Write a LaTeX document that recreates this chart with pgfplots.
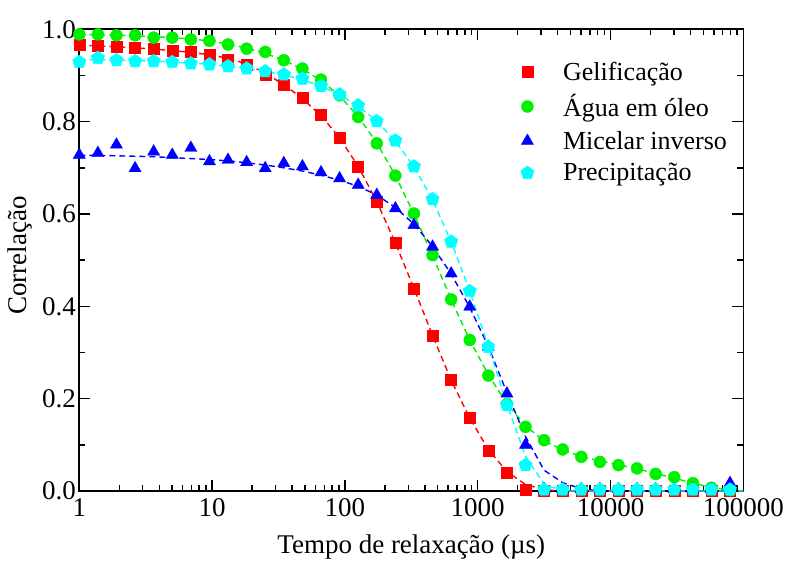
\documentclass[border=0pt]{standalone}
\usepackage{fontspec}
\setmainfont{Liberation Serif}
\usepackage{pgfplots}
\usepackage{pgfplotstable}
\pgfplotsset{compat=1.18}

\definecolor{cRed}{RGB}{255,0,0}
\definecolor{cGreen}{RGB}{0,240,0}
\definecolor{cBlue}{RGB}{0,0,255}
\definecolor{cCyan}{RGB}{0,255,255}

% measured points: x, gelificacao, agua em oleo, micelar inverso, precipitacao
\pgfplotstableread{
x      gel    agua   mic    prec
1      0.967  0.989  0.728  0.929
1.380  0.964  0.989  0.732  0.938
1.905  0.962  0.987  0.750  0.933
2.630  0.960  0.987  0.699  0.931
3.631  0.957  0.982  0.735  0.931
5.012  0.953  0.982  0.728  0.929
6.918  0.951  0.978  0.743  0.926
9.550  0.946  0.975  0.714  0.924
13.18  0.935  0.967  0.717  0.920
18.20  0.924  0.958  0.712  0.915
25.12  0.902  0.951  0.699  0.909
34.67  0.880  0.933  0.710  0.902
47.86  0.851  0.915  0.703  0.893
66.07  0.815  0.891  0.690  0.877
91.20  0.765  0.857  0.677  0.859
125.9  0.703  0.810  0.663  0.835
173.8  0.627  0.753  0.641  0.801
239.9  0.537  0.683  0.612  0.759
331.1  0.439  0.601  0.576  0.703
457.1  0.337  0.511  0.529  0.632
631.0  0.240  0.415  0.471  0.540
871.0  0.158  0.327  0.399  0.433
1202   0.088  0.250  0.312  0.312
1660   0.040  0.188  0.211  0.186
2291   0.003  0.139  0.100  0.056
3162   0.000  0.110  0.004  0.003
4365   0.000  0.090  0.004  0.003
6026   0.000  0.074  0.004  0.003
8318   0.000  0.063  0.004  0.003
11482  0.000  0.056  0.004  0.003
15849  0.000  0.049  0.004  0.003
21878  0.000  0.037  0.004  0.003
30200  0.000  0.030  0.004  0.003
41687  0.000  0.017  0.004  0.003
57544  0.000  0.007  0.004  0.003
79433  0.000  0.002  0.017  0.003
109648 0.000  0.000  0.000  0.003
}\pontos

% dashed fit curves
\pgfplotstableread{
x      gel    agua   mic    prec
1      0.965  0.989  0.727  0.934
1.380  0.964  0.988  0.727  0.934
1.905  0.962  0.987  0.726  0.933
2.630  0.960  0.986  0.725  0.932
3.631  0.957  0.984  0.724  0.931
5.012  0.954  0.982  0.722  0.929
6.918  0.950  0.979  0.720  0.927
9.550  0.945  0.975  0.718  0.924
13.18  0.937  0.968  0.715  0.920
18.20  0.925  0.959  0.711  0.915
25.12  0.905  0.948  0.706  0.909
34.67  0.880  0.933  0.700  0.901
47.86  0.850  0.914  0.693  0.891
66.07  0.813  0.889  0.684  0.877
91.20  0.765  0.856  0.673  0.858
125.9  0.703  0.811  0.660  0.834
173.8  0.627  0.754  0.641  0.801
239.9  0.537  0.683  0.614  0.758
331.1  0.439  0.600  0.578  0.702
457.1  0.337  0.510  0.530  0.631
631.0  0.240  0.415  0.470  0.540
871.0  0.158  0.327  0.398  0.433
1202   0.090  0.252  0.313  0.313
1660   0.042  0.189  0.213  0.188
2291   0.014  0.141  0.118  0.075
3162   0.003  0.109  0.045  0.015
4365   0.000  0.089  0.018  0.000
6026   0.000  0.075  0.005  0.000
8318   0.000  0.065  0.000  0.000
11482  0.000  0.057  0.000  0.000
15849  0.000  0.048  0.000  0.000
21878  0.000  0.038  0.000  0.000
30200  0.000  0.028  0.000  0.000
41687  0.000  0.017  0.000  0.000
57544  0.000  0.008  0.000  0.000
79433  0.000  0.002  0.000  0.000
100000 0.000  0.000  0.000  0.000
}\ajuste

\begin{document}
\begin{tikzpicture}
\useasboundingbox (-79.3pt,-77pt) rectangle (706.7pt,491pt);
\begin{axis}[
    at={(0,0)}, anchor=south west,
    scale only axis,
    width=664pt, height=461.7pt,
    xmode=log,
    xmin=1, xmax=100000,
    ymin=0, ymax=1,
    log ticks with fixed point,
    /pgf/number format/1000 sep={},
    /pgf/number format/assume math mode=true,
    ytick={0,0.2,0.4,0.6,0.8,1.0},
    minor ytick={0.1,0.3,0.5,0.7,0.9},
    yticklabel style={/pgf/number format/fixed, /pgf/number format/fixed zerofill, /pgf/number format/precision=1},
    tick label style={font=\fontsize{27}{32}\selectfont},
    xticklabel style={yshift=-4pt},
    label style={font=\fontsize{27}{32}\selectfont},
    tick align=inside,
    major tick length=11pt,
    minor tick length=6pt,
    every tick/.style={black, line width=1.5pt},
    axis line style={line width=1.6pt},
    xlabel={Tempo de relaxação (µs)},
    ylabel={Correlação},
    xlabel style={at={(axis description cs:0.5,0)}, anchor=center, yshift=-56pt},
    ylabel style={at={(axis description cs:-0.089,0.51)}, anchor=center},
    legend style={draw=none, fill=none, at={(axis description cs:0.660,0.938)}, anchor=north west,
        font=\fontsize{26}{31}\selectfont, row sep=8.7pt, column sep=27pt},
    legend cell align=left,
]
\addplot[cRed, dash pattern=on 6pt off 4pt, line width=1.4pt, forget plot] table[x=x, y=gel] {\ajuste};
\addplot[cGreen, dash pattern=on 6pt off 4pt, line width=1.4pt, forget plot] table[x=x, y=agua] {\ajuste};
\addplot[cBlue, dash pattern=on 6pt off 4pt, line width=1.4pt, forget plot] table[x=x, y=mic] {\ajuste};
\addplot[cCyan, dash pattern=on 6pt off 4pt, line width=1.4pt, forget plot] table[x=x, y=prec] {\ajuste};

\addplot[only marks, mark=square*, mark size=5.5pt, color=cRed] table[x=x, y=gel] {\pontos};
\addplot[only marks, mark=*, mark size=6pt, color=cGreen] table[x=x, y=agua] {\pontos};
\addplot[only marks, mark=triangle*, mark size=7pt, color=cBlue] table[x=x, y=mic] {\pontos};
\addplot[only marks, mark=pentagon*, mark size=7pt, color=cCyan] table[x=x, y=prec] {\pontos};
\legend{Gelificação, Água em óleo, Micelar inverso, Precipitação}
\end{axis}
\end{tikzpicture}
\end{document}
